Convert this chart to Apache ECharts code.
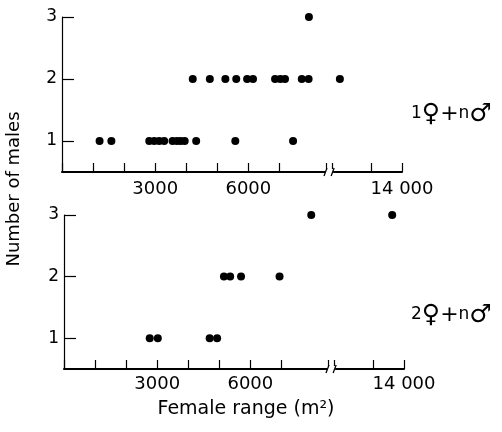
<!DOCTYPE html>
<html><head><meta charset="utf-8">
<script src="https://cdn.jsdelivr.net/npm/echarts@6/dist/echarts.min.js"></script>
<style>html,body{margin:0;padding:0;background:#fff}#c{width:502px;height:432px}</style>
</head><body><div id="c"></div>
<script>
// Tick labels on the female-range axis
const xTickValues = [3000, 6000, 14000];
const xTickTexts = ['3000', '6000', '14 000'];
const yTicks = [1, 2, 3];
// Axis break (m²)
const breakRange = [8500, 11750];

// Panel 1: one female + n males — female range (m²) per number of males
const oneFemale_1male = [1210, 1590, 2810, 2970, 3130, 3290, 3560, 3700, 3820, 3950, 4320, 5580, 7440];
const oneFemale_2males = [4210, 4760, 5260, 5610, 5960, 6150, 6860, 7030, 7180, 7720, 7940, 12000];
const oneFemale_3males = [7950];

// Panel 2: two females + n males
const twoFemales_1male = [2760, 3020, 4690, 4930];
const twoFemales_2males = [5150, 5350, 5700, 6940];
const twoFemales_3males = [7960, 13620];

const FONT = 'DejaVu Sans';
const chart = echarts.init(document.getElementById('c'), null, {renderer: 'canvas'});

function xAxisCfg(gridIndex, margin) {
  return {
    type: 'value', gridIndex, min: 0, max: 14000, interval: 1000,
    breaks: [{start: breakRange[0], end: breakRange[1], gap: '1.8%'}],
    breakArea: {show: false},
    axisLine: {show: true, onZero: false, lineStyle: {color: '#000', width: 2}},
    axisTick: {show: true, inside: true, length: 9, lineStyle: {color: '#000', width: 1.2}},
    axisLabel: {margin, color: '#000', fontSize: 18, fontFamily: FONT,
      formatter: v => { const i = xTickValues.indexOf(v); return i >= 0 ? xTickTexts[i] : ''; }},
    splitLine: {show: false}
  };
}
function yAxisCfg(gridIndex) {
  return {
    type: 'value', gridIndex, min: 0.5, max: 3,
    axisLine: {show: true, onZero: false, lineStyle: {color: '#000', width: 1.2}},
    axisTick: {show: true, inside: true, length: 12, customValues: yTicks, lineStyle: {color: '#000', width: 1.2}},
    axisLabel: {customValues: yTicks, margin: 5, color: '#000', fontSize: 17, fontFamily: FONT},
    splitLine: {show: false}
  };
}
function sc(idx, arr, males) {
  return {type: 'scatter', xAxisIndex: idx, yAxisIndex: idx, symbolSize: 8,
    itemStyle: {color: '#000', opacity: 1}, data: arr.map(v => [v, males]), silent: true};
}

chart.setOption({
  animation: false,
  backgroundColor: '#fff',
  grid: [
    {left: 62, top: 17, width: 340, height: 155},
    {left: 64, top: 215, width: 340, height: 154}
  ],
  xAxis: [xAxisCfg(0, 8), xAxisCfg(1, 6)],
  yAxis: [yAxisCfg(0), yAxisCfg(1)],
  series: [
    sc(0, oneFemale_1male, 1), sc(0, oneFemale_2males, 2), sc(0, oneFemale_3males, 3),
    sc(1, twoFemales_1male, 1), sc(1, twoFemales_2males, 2), sc(1, twoFemales_3males, 3)
  ]
});

const graphics = [
  {type: 'text', id: 'ytitle', x: 14, y: 189, rotation: Math.PI / 2,
    style: {text: 'Number of males', fill: '#000', font: '18px "DejaVu Sans"', align: 'center', verticalAlign: 'middle'}},
  {type: 'text', id: 'xtitle', x: 246, y: 409,
    style: {text: 'Female range (m²)', fill: '#000', font: '19px "DejaVu Sans"', align: 'center', verticalAlign: 'middle'}}
];
const rich = {
  n: {fontSize: 17, fontFamily: FONT, fill: '#000'},
  s: {fontSize: 25, fontFamily: FONT, fill: '#000'},
  p: {fontSize: 22, fontFamily: FONT, fill: '#000'}
};
graphics.push({type: 'text', id: 'lab1', x: 411, y: 114,
  style: {text: '{n|1}{s|♀}{p|+}{n|n}{s|♂}', rich, verticalAlign: 'middle'}});
graphics.push({type: 'text', id: 'lab2', x: 411, y: 315,
  style: {text: '{n|2}{s|♀}{p|+}{n|n}{s|♂}', rich, verticalAlign: 'middle'}});

[0, 1].forEach(i => {
  const a = chart.convertToPixel({xAxisIndex: i, yAxisIndex: i}, [breakRange[0], 0.5]);
  const b = chart.convertToPixel({xAxisIndex: i, yAxisIndex: i}, [breakRange[1], 0.5]);
  const y = a[1];
  graphics.push({type: 'rect', id: 'gap' + i, shape: {x: a[0] - 1, y: y - 3, width: b[0] - a[0] + 2, height: 6},
    style: {fill: '#fff'}, z: 100});
  graphics.push({type: 'line', id: 's1' + i, shape: {x1: a[0] - 2, y1: y + 4, x2: a[0] + 1, y2: y - 4},
    style: {stroke: '#000', lineWidth: 1.3}, z: 101});
  graphics.push({type: 'line', id: 's2' + i, shape: {x1: b[0] - 1, y1: y + 4, x2: b[0] + 2, y2: y - 4},
    style: {stroke: '#000', lineWidth: 1.3}, z: 101});
});
chart.setOption({graphic: graphics});
</script></body></html>
